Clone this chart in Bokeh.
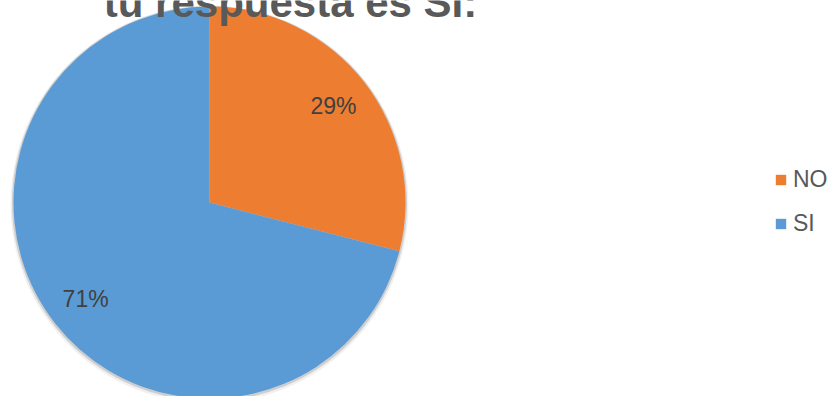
import numpy as np
from bokeh.plotting import figure
from bokeh.models import Range1d, Label, Legend, LegendItem, ColumnDataSource
from bokeh.core.properties import value
from bokeh.embed import file_html
from bokeh.resources import INLINE

# data
categories = ["NO", "SI"]
percent = [29, 71]
colors = ["#ED7D31", "#5B9BD5"]
title_text = "tu respuesta es SI:"

W, H = 836, 396
cx, cy, R = 209, H - 202, 196

frac = np.array(percent, dtype=float) / sum(percent)
ends = np.cumsum(frac)
starts = ends - frac
start_angle = np.pi / 2 - 2 * np.pi * starts
end_angle = np.pi / 2 - 2 * np.pi * ends
mid = (start_angle + end_angle) / 2

src = ColumnDataSource(dict(
    cat=categories, pct=percent, color=colors,
    start=start_angle, end=end_angle,
    lx=cx + 0.8 * R * np.cos(mid), ly=cy + 0.8 * R * np.sin(mid),
    lbl=[f"{v}%" for v in percent],
    x=[cx] * len(categories), y=[cy] * len(categories),
))

p = figure(width=W, height=H, output_backend="svg", toolbar_location=None,
           x_range=Range1d(0, W), y_range=Range1d(0, H),
           x_axis_type=None, y_axis_type=None, min_border=0,
           background_fill_color="white", border_fill_color="white")
p.grid.visible = False
p.outline_line_color = None

# soft shadow
p.circle(x=[cx], y=[cy - 2], radius=R + 3, fill_color="#000000", fill_alpha=0.06, line_color=None)
p.circle(x=[cx], y=[cy - 1], radius=R + 1.5, fill_color="#000000", fill_alpha=0.14, line_color=None)

w = p.wedge(x="x", y="y", radius=R, start_angle="start", end_angle="end",
            direction="clock", fill_color="color", line_color=None, source=src)

p.text(x="lx", y="ly", text="lbl", source=src, text_align="center", text_baseline="middle",
       text_font=value("Liberation Sans"), text_font_size="23px", text_color="#404040")

title = Label(x=290, y=H - 2, text=title_text, text_align="center", text_baseline="alphabetic",
              text_font="Liberation Sans", text_font_size="42px", text_font_style="bold",
              text_color="#595959")
p.add_layout(title)

legend = Legend(items=[LegendItem(label=c, renderers=[w], index=i) for i, c in enumerate(categories)],
                location=(774, 159), orientation="vertical",
                glyph_width=13, glyph_height=13, label_standoff=6, label_height=26,
                spacing=17, padding=0, margin=0,
                label_text_font="Liberation Sans", label_text_font_size="23px",
                label_text_color="#595959", border_line_color=None, background_fill_alpha=0)
p.add_layout(legend)

open("out.html", "w").write(file_html(p, INLINE))
